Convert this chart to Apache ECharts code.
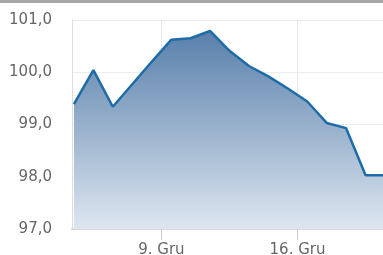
<!DOCTYPE html>
<html>
<head>
<meta charset="utf-8">
<script src="https://cdn.jsdelivr.net/npm/echarts@6/dist/echarts.min.js"></script>
<style>
  html, body { margin: 0; padding: 0; background: #fff; }
  #chart { width: 383px; height: 255px; }
</style>
</head>
<body>
<div id="chart"></div>
<script>
// day of month (points sit at noon), December
var days = [4.5, 5.5, 6.5, 7.5, 8.5, 9.5, 10.5, 11.5, 12.5, 13.5, 14.5, 15.5, 16.5, 17.5, 18.5, 19.5, 20.5]
var prices = [99.39, 100.04, 99.34, 99.77, 100.2, 100.62, 100.65, 100.79, 100.41, 100.12, 99.92, 99.69, 99.44, 99.03, 98.93, 98.03, 98.03]
var tickDays = [9, 16]
var monthLabel = 'Gru'

var chart = echarts.init(document.getElementById('chart'))

var points = days.map(function (d, i) { return [d, prices[i]] })

var option = {
  animation: false,
  grid: { left: 72, right: -2, top: 20, bottom: 26, outerBoundsMode: 'none', containLabel: false },
  graphic: [{
    type: 'rect',
    shape: { x: 0, y: 0, width: 383, height: 3 },
    style: { fill: '#a8a8a8' }
  }],
  xAxis: {
    type: 'value',
    min: 4.4,
    max: 20.5,
    axisLine: { show: true, lineStyle: { color: '#d8d8d8', width: 2 } },
    axisTick: { show: true, length: 11, customValues: tickDays, lineStyle: { color: '#cccccc' } },
    axisLabel: {
      customValues: tickDays,
      formatter: function (v) { return v + '. ' + monthLabel },
      color: '#666',
      fontFamily: 'DejaVu Sans',
      fontSize: 15,
      margin: 14
    },
    splitLine: { show: true, lineStyle: { color: '#e8e8e8' } }
  },
  yAxis: {
    type: 'value',
    min: 97,
    max: 101,
    interval: 1,
    axisLine: { show: true, lineStyle: { color: '#dddddd' } },
    axisTick: { show: false },
    axisLabel: {
      formatter: function (v) { return v.toFixed(1).replace('.', ',') },
      color: '#666',
      fontFamily: 'DejaVu Sans',
      fontSize: 15,
      margin: 20
    },
    splitLine: { lineStyle: { color: '#ececec' } }
  },
  series: [{
    type: 'line',
    data: points,
    symbol: 'none',
    lineStyle: { color: '#1d6ca8', width: 2.5 },
    areaStyle: {
      opacity: 1,
      color: new echarts.graphic.LinearGradient(0, 0, 0, 1, [
        { offset: 0, color: '#587fab' },
        { offset: 1, color: '#dde6f0' }
      ])
    }
  }]
}

chart.setOption(option)
</script>
</body>
</html>
